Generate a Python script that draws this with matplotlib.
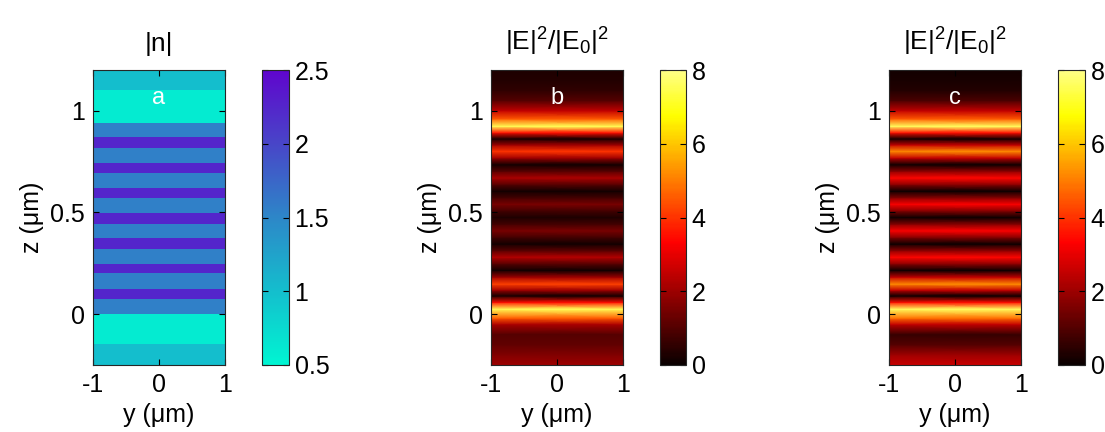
import numpy as np
import matplotlib
matplotlib.use("Agg")
import matplotlib.pyplot as plt
from matplotlib.colors import LinearSegmentedColormap, ListedColormap

plt.rcParams['font.family'] = ['Liberation Sans', 'DejaVu Sans']
plt.rcParams['mathtext.default'] = 'regular'

# ---------------- data ----------------
# panel a: layered refractive index profile (|n|) vs z (um)
layer_edges = [-0.25, -0.148, 0.0, 0.076, 0.125, 0.2, 0.248, 0.322, 0.374, 0.445,
               0.497, 0.57, 0.62, 0.694, 0.743, 0.817, 0.87, 0.94, 1.1, 1.2]
layer_n = [1.0, 0.6, 1.55, 2.25, 1.55, 2.25, 1.55, 2.25, 1.55, 2.25,
           1.55, 2.25, 1.55, 2.25, 1.55, 2.25, 1.55, 0.6, 1.0]

# panels b, c: field intensity |E|^2/|E0|^2 vs z (um)
z_profile = [-0.25, -0.2, -0.15, -0.1, -0.05, -0.02, 0.025, 0.058, 0.09, 0.118,
             0.148, 0.182, 0.215, 0.248, 0.28, 0.312, 0.345, 0.378, 0.41, 0.442,
             0.475, 0.508, 0.54, 0.572, 0.605, 0.638, 0.67, 0.702, 0.735, 0.768,
             0.8, 0.832, 0.862, 0.892, 0.923, 0.96, 1.0, 1.05, 1.1, 1.15, 1.2]
intensity_b = [2.0, 1.6, 1.2, 1.0, 2.2, 4.5, 7.5, 3.5, 0.15, 2.0,
               4.2, 2.0, 0.1, 1.1, 2.3, 1.1, 0.15, 0.8, 1.5, 0.8,
               0.3, 0.8, 1.5, 0.8, 0.15, 1.1, 2.2, 1.1, 0.1, 2.0,
               4.0, 2.0, 0.15, 3.5, 7.5, 4.5, 2.5, 1.0, 0.5, 0.35, 0.3]
intensity_c = [2.6, 2.0, 1.0, 0.6, 2.5, 4.8, 7.6, 3.5, 0.05, 2.5,
               5.2, 2.5, 0.05, 1.8, 3.4, 1.8, 0.05, 1.7, 3.3, 1.7,
               0.05, 1.7, 3.3, 1.7, 0.05, 1.8, 3.4, 1.8, 0.05, 2.5,
               5.2, 2.5, 0.05, 3.5, 7.6, 4.5, 2.5, 0.9, 0.35, 0.2, 0.15]

y_extent = [-1, 1]
titles = ['|n|', '|E|$^2$/|E$_0$|$^2$', '|E|$^2$/|E$_0$|$^2$']
panel_letters = ['a', 'b', 'c']

# ---------------- colormaps ----------------
cmap_n = LinearSegmentedColormap.from_list(
    'n_map',
    [(0.00, (0/255, 245/255, 210/255)),
     (0.25, (20/255, 190/255, 205/255)),
     (0.50, (45/255, 135/255, 200/255)),
     (0.75, (72/255, 70/255, 200/255)),
     (1.00, (95/255, 5/255, 205/255))])
hot = plt.get_cmap('hot')
cmap_hot = ListedColormap(hot(np.linspace(0, 0.88, 256)))

# ---------------- figure ----------------
W, H = 1105, 432
fig = plt.figure(figsize=(W / 100, H / 100), dpi=100)

def fbox(x0, x1, y0, y1):
    return [x0 / W, 1 - y1 / H, (x1 - x0) / W, (y1 - y0) / H]

ax_boxes = [fbox(93, 225, 70, 365), fbox(491, 623, 70, 365), fbox(889, 1021, 70, 365)]
cb_boxes = [fbox(262, 289, 70, 365), fbox(660, 686, 70, 365), fbox(1058, 1085, 70, 365)]

FS = 18

def style_axes(ax):
    ax.tick_params(direction='in', top=True, right=True, labelsize=FS, length=4,
                   width=0.8, pad=6)
    for s in ax.spines.values():
        s.set_linewidth(0.8)
        s.set_color('#262626')

for i in range(3):
    ax = fig.add_axes(ax_boxes[i])
    if i == 0:
        zz = np.array(layer_edges)
        C = np.array(layer_n)[:, None]
        im = ax.pcolormesh(y_extent, zz, C, cmap=cmap_n, vmin=0.5, vmax=2.5,
                           shading='flat')
        ticks = [0.5, 1, 1.5, 2, 2.5]
        tlabels = ['0.5', '1', '1.5', '2', '2.5']
    else:
        vals = intensity_b if i == 1 else intensity_c
        zz = np.array(z_profile)
        C = np.repeat(np.array(vals)[:, None], 2, axis=1)
        im = ax.pcolormesh(y_extent, zz, C, cmap=cmap_hot, vmin=0, vmax=8,
                           shading='gouraud')
        ticks = [0, 2, 4, 6, 8]
        tlabels = ['0', '2', '4', '6', '8']
    ax.set_xlim(-1, 1)
    ax.set_ylim(-0.25, 1.2)
    ax.set_xticks([-1, 0, 1])
    ax.set_xticklabels(['-1', '0', '1'])
    ax.set_yticks([0, 0.5, 1])
    ax.set_yticklabels(['0', '0.5', '1'])
    style_axes(ax)
    ax.set_xlabel('y (\u03bcm)', fontsize=FS, labelpad=4)
    ax.set_ylabel('z (\u03bcm)', fontsize=FS, labelpad=4)
    ax.set_title(titles[i], fontsize=FS + 1, pad=14)
    ax.text(0, 1.06, panel_letters[i], color='white', fontsize=FS - 1,
            ha='center', va='center')

    cax = fig.add_axes(cb_boxes[i])
    cb = fig.colorbar(im, cax=cax)
    cb.set_ticks(ticks)
    cb.set_ticklabels(tlabels)
    cax.tick_params(direction='in', labelsize=FS, length=4, width=0.8, left=True,
                    right=True, pad=4)
    cb.outline.set_linewidth(0.8)
    cb.outline.set_edgecolor('#262626')

fig.savefig('out.png', dpi=100)
